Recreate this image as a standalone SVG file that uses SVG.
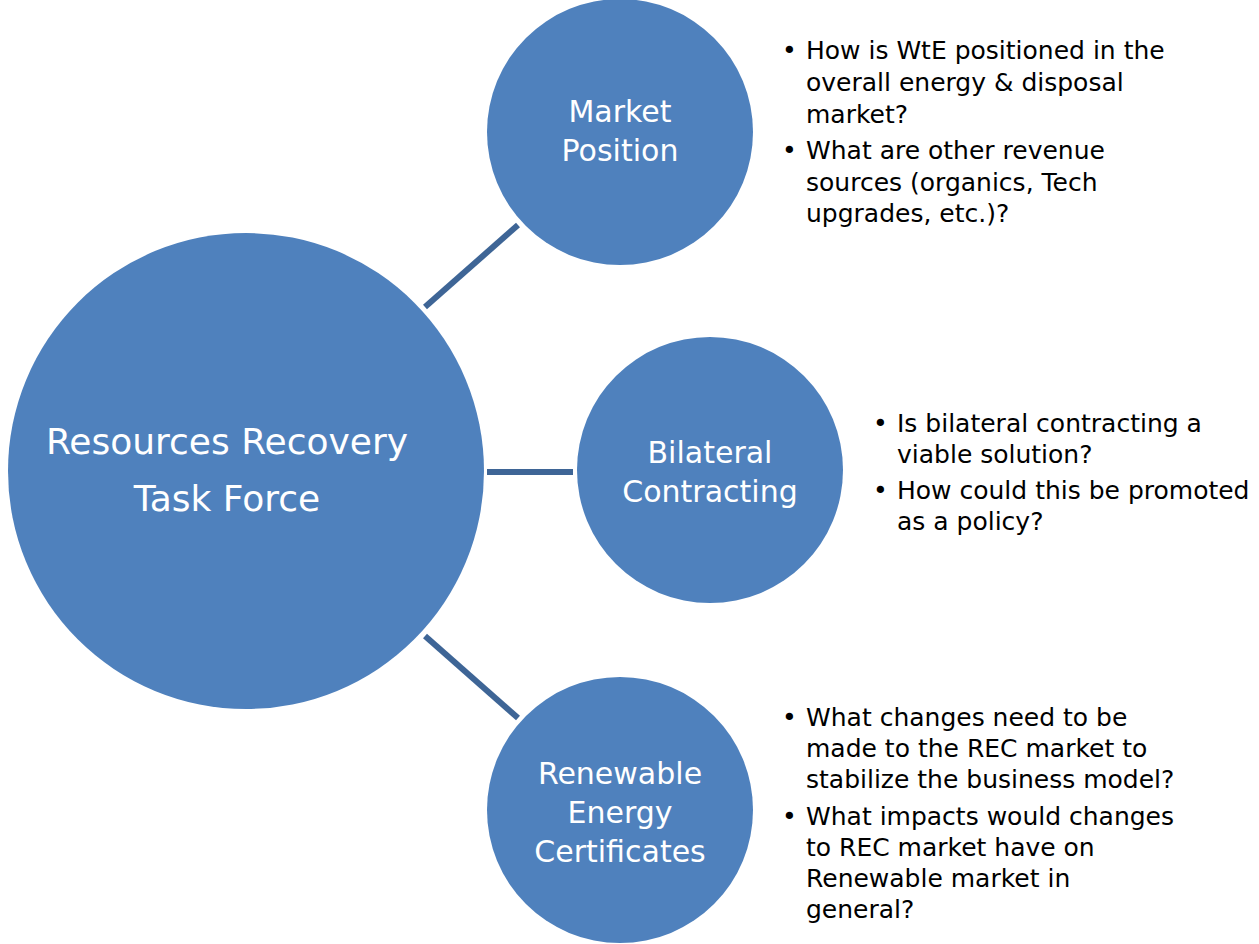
<svg xmlns="http://www.w3.org/2000/svg" width="1259" height="944" viewBox="0 0 1259 944">
<style>
.c{fill:#4f81bd}
.ct{fill:#fff;font-family:"DejaVu Sans",Arial,sans-serif;text-anchor:middle}
.b{fill:#000;font-family:"DejaVu Sans",Arial,sans-serif;font-size:25px}
.l{stroke:#3e6596;stroke-width:6;fill:none}
</style>
<rect width="1259" height="944" fill="#fff"/>
<g id="connectors">
<line class="l" x1="425" y1="307" x2="518" y2="225"/>
<line class="l" x1="487" y1="472" x2="573" y2="472"/>
<line class="l" x1="425" y1="636" x2="518" y2="718"/>
</g>
<g id="center">
<circle class="c" cx="246" cy="471" r="238"/>
<text class="ct" font-size="36" x="227" y="454">Resources Recovery</text>
<text class="ct" font-size="36" x="227" y="511">Task Force</text>
</g>
<g id="market">
<circle class="c" cx="620" cy="132" r="133"/>
<text class="ct" font-size="30" x="620" y="122">Market</text>
<text class="ct" font-size="30" x="620" y="161">Position</text>
</g>
<g id="bilateral">
<circle class="c" cx="710" cy="470" r="133"/>
<text class="ct" font-size="30" x="710" y="463">Bilateral</text>
<text class="ct" font-size="30" x="710" y="502">Contracting</text>
</g>
<g id="renewable">
<circle class="c" cx="620" cy="810" r="133"/>
<text class="ct" font-size="30" x="620" y="784">Renewable</text>
<text class="ct" font-size="30" x="620" y="823">Energy</text>
<text class="ct" font-size="30" x="620" y="862">Certificates</text>
</g>
<g id="market-notes">
<text class="b" x="782" y="59">•</text>
<text class="b" x="806" y="59">How is WtE positioned in the</text>
<text class="b" x="806" y="91">overall energy &amp; disposal</text>
<text class="b" x="806" y="123">market?</text>
<text class="b" x="782" y="159">•</text>
<text class="b" x="806" y="159">What are other revenue</text>
<text class="b" x="806" y="191">sources (organics, Tech</text>
<text class="b" x="806" y="222">upgrades, etc.)?</text>
</g>
<g id="bilateral-notes">
<text class="b" x="873" y="432">•</text>
<text class="b" x="897" y="432">Is bilateral contracting a</text>
<text class="b" x="897" y="463">viable solution?</text>
<text class="b" x="873" y="499">•</text>
<text class="b" x="897" y="499">How could this be promoted</text>
<text class="b" x="897" y="530">as a policy?</text>
</g>
<g id="renewable-notes">
<text class="b" x="782" y="726">•</text>
<text class="b" x="806" y="726">What changes need to be</text>
<text class="b" x="806" y="757">made to the REC market to</text>
<text class="b" x="806" y="788">stabilize the business model?</text>
<text class="b" x="782" y="825">•</text>
<text class="b" x="806" y="825">What impacts would changes</text>
<text class="b" x="806" y="856">to REC market have on</text>
<text class="b" x="806" y="887">Renewable market in</text>
<text class="b" x="806" y="918">general?</text>
</g>
</svg>
